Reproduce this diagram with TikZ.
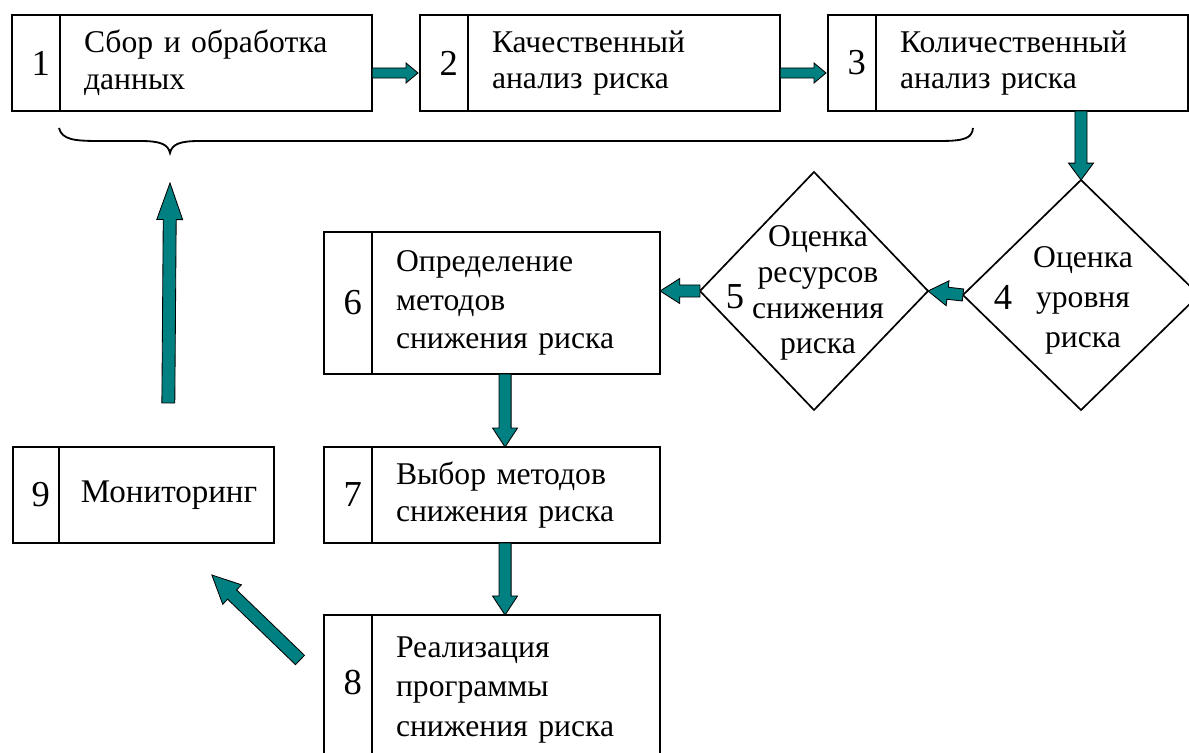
\documentclass[tikz,border=0pt]{standalone}
\usepackage{fontspec}
\setmainfont{Liberation Serif}
\usetikzlibrary{shapes.geometric, positioning, calc}
\definecolor{arrowteal}{RGB}{0, 128, 128}

% block arrow: from, to, half shaft, half head, head length
\newcommand{\barrow}[5]{%
  \draw[flow] ($(#1)!#3!90:(#2)$)
    -- ($(#2)!#5!(#1)!#3!-90:(#1)$)
    -- ($(#2)!#5!(#1)!#4!-90:(#1)$)
    -- (#2)
    -- ($(#2)!#5!(#1)!#4!90:(#1)$)
    -- ($(#2)!#5!(#1)!#3!90:(#1)$)
    -- ($(#1)!#3!-90:(#2)$) -- cycle;}

\begin{document}
\begin{tikzpicture}[
    x=0.025cm, y=-0.025cm,
    font=\fontsize{22.5}{26}\selectfont,
    numcell/.style={
        rectangle,
        draw,
        line width=1.2pt,
        outer sep=0pt,
        text width=0.7cm,
        align=right,
        inner xsep=0.25cm,
        inner ysep=0pt,
        minimum height=2.4cm,
        font=\fontsize{26}{30}\selectfont
    },
    textcell/.style={
        rectangle,
        draw,
        line width=1.2pt,
        outer sep=0pt,
        text width=#1,
        align=left,
        inner xsep=0.6cm,
        inner ysep=0pt,
        minimum height=2.4cm
    },
    decision/.style={
        diamond,
        draw,
        line width=1.2pt,
        inner sep=0pt,
        outer sep=0pt
    },
    flow/.style={
        fill=arrowteal,
        draw=black,
        line width=0.6pt,
        line join=miter
    }
]
\clip (0,0) rectangle (1189,753);

% Top row
\node[numcell] (n1) at (36,63) {1};
\node[textcell=6.6cm, right=0pt of n1] (b1) {Сбор и обработка\\данных};
\node[numcell] (n2) at (444,63) {2};
\node[textcell=6.6cm, right=0pt of n2] (b2) {Качественный\\анализ риска};
\node[numcell] (n3) at (852,63) {3};
\node[textcell=6.6cm, right=0pt of n3] (b3) {Количественный\\анализ риска};

% Decisions
\node[decision, minimum width=5.9cm, minimum height=5.75cm] (d4) at (1081,295) {};
\node[align=center, font=\fontsize{22.5}{28.5}\selectfont] (t4) at (1083,300) {Оценка\\уровня\\риска};
\node[font=\fontsize{26}{30}\selectfont] (k4) at (1003,297) {4};
\node[decision, minimum width=5.7cm, minimum height=5.95cm] (d5) at (814,291) {};
\node[align=center, font=\fontsize{22.5}{25.5}\selectfont] (t5) at (818,293) {Оценка\\ресурсов\\снижения\\риска};
\node[font=\fontsize{26}{30}\selectfont] (k5) at (735,297) {5};

% Middle column
\node[numcell, minimum height=3.55cm] (n6) at (348,303) {6};
\node[textcell=6.0cm, minimum height=3.55cm, font=\fontsize{22.5}{27.5}\selectfont, right=0pt of n6] (b6) {Определение\\методов\\снижения риска};
\node[numcell] (n7) at (348,495) {7};
\node[textcell=6.0cm, right=0pt of n7] (b7) {Выбор методов\\снижения риска};
\node[numcell, minimum height=3.75cm] (n8) at (348,690) {\raisebox{0.4cm}{8}};
\node[textcell=6.0cm, minimum height=3.75cm, font=\fontsize{22.5}{28}\selectfont, right=0pt of n8] (b8) {Реализация\\программы\\снижения риска};

% Monitoring
\node[numcell, inner xsep=0.22cm] (n9) at (36,495) {9};
\node[textcell=4.275cm, inner xsep=0.55cm, font=\fontsize{23.5}{26}\selectfont, right=0pt of n9] (b9) {Мониторинг};

% Brace under the top row
\coordinate (tip) at (170,153);
\draw[line width=1.3pt] (59,128) .. controls (62,140) and (75,141) .. (100,141)
  -- (140,141) .. controls (160,141) and (168,144) .. (tip)
  .. controls (172,144) and (180,141) .. (200,141)
  -- (940,141) .. controls (965,141) and (972,138) .. (973,128);

% Arrows
\coordinate (a12) at ($(b1.east)+(0,10)$);
\coordinate (a21) at ($(n2.west)+(-2,10)$);
\coordinate (a23) at ($(b2.east)+(0,10)$);
\coordinate (a32) at ($(n3.west)+(-2,10)$);
\barrow{a12}{a21}{3.6pt}{7.1pt}{8.5pt}
\barrow{a23}{a32}{3.6pt}{7.1pt}{8.5pt}
\coordinate (a34) at (d4.north |- b3.south);
\barrow{a34}{d4.north}{4.3pt}{8.9pt}{12pt}
\barrow{d4.west}{d5.east}{4.3pt}{8.9pt}{14pt}
\barrow{d5.west}{d5.west -| b6.east}{4.3pt}{8.9pt}{14pt}
\coordinate (a67) at ($(b6.south)+(-11,0)$);
\barrow{a67}{a67 |- b7.north}{4.3pt}{8.9pt}{13.5pt}
\coordinate (a78) at (a67 |- b7.south);
\barrow{a78}{a78 |- b8.north}{4.3pt}{8.9pt}{13.5pt}
\coordinate (m8) at ($(n8.west)+(-24,-30)$);
\coordinate (m9) at ($(b9.south east)+(-62,32)$);
\barrow{m8}{m9}{4.6pt}{9.6pt}{20pt}
\coordinate (u9) at ($(b9.north)+(2,-44)$);
\coordinate (ub) at ($(tip)+(0,30)$);
\barrow{u9}{ub}{4.6pt}{9.2pt}{26pt}

\end{tikzpicture}
\end{document}
